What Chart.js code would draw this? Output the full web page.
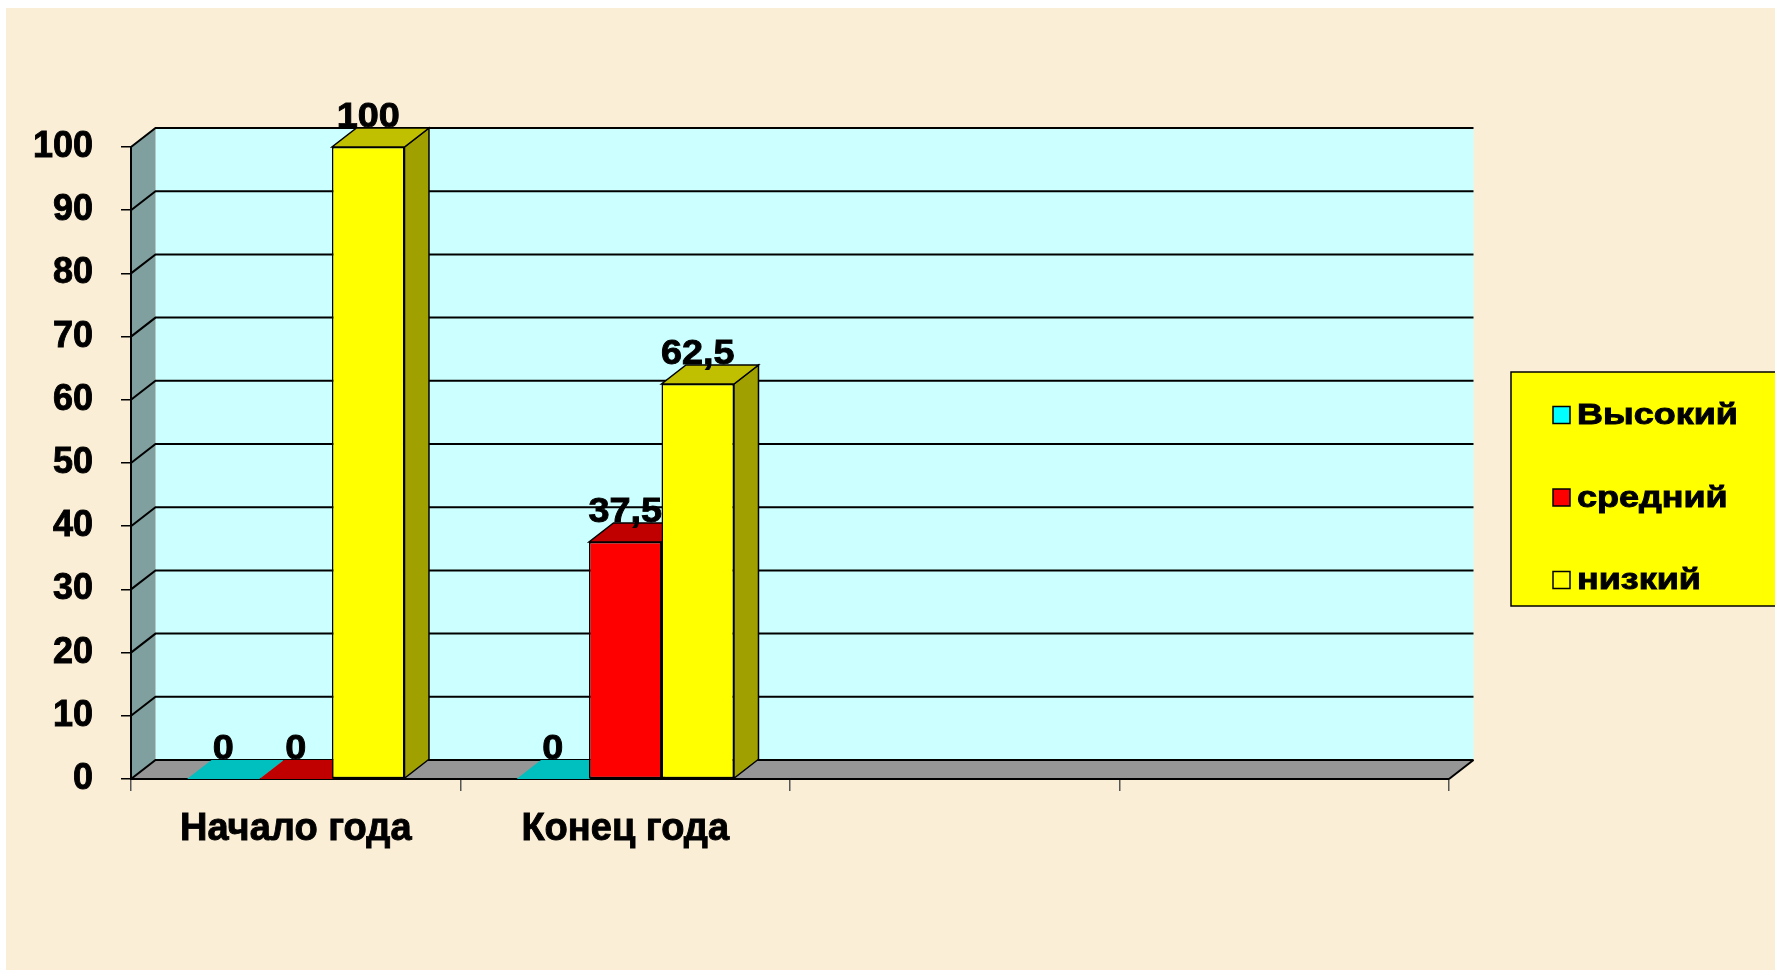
<!DOCTYPE html>
<html>
<head>
<meta charset="utf-8">
<script src="https://cdn.jsdelivr.net/npm/chart.js@4.4.0/dist/chart.umd.min.js"></script>
<style>
  html, body { margin: 0; padding: 0; background: #fff; }
  canvas { display: block; }
</style>
</head>
<body>
<canvas id="chart" width="1775" height="972"></canvas>
<script>
// data
const categories = ['Начало года', 'Конец года', '', ''];
const seriesNames = ['Высокий', 'средний', 'низкий'];
const highValues = [0, 0, null, null];
const midValues = [0, 37.5, null, null];
const lowValues = [100, 62.5, null, null];
const yTickValues = [0, 10, 20, 30, 40, 50, 60, 70, 80, 90, 100];

// colours of the front, top and side faces
const frontColors = ['#00FFFF', '#FF0000', '#FFFF00'];
const topColors = ['#00BFBF', '#C00000', '#C0C000'];
const sideColors = ['#00A0A0', '#A00000', '#A0A000'];

const FONT = "'Liberation Sans', Arial, sans-serif";
const DX = 24.5;   // depth offset to the right
const DY = 19;     // depth offset upwards

const poly = (ctx, pts) => {
    ctx.beginPath();
    ctx.moveTo(pts[0][0], pts[0][1]);
    for (let i = 1; i < pts.length; i++) ctx.lineTo(pts[i][0], pts[i][1]);
    ctx.closePath();
};

// heavy, slightly widened text like the original
const wideText = (ctx, text, x, y, stretch) => {
    ctx.save();
    ctx.translate(x, y);
    ctx.scale(stretch, 1);
    ctx.fillStyle = '#000';
    ctx.strokeStyle = '#000';
    ctx.lineWidth = 0.9;
    ctx.fillText(text, 0, 0);
    ctx.strokeText(text, 0, 0);
    ctx.restore();
};

const threeD = {
    id: 'threeD',
    beforeDraw(chart) {
        const { ctx, width, height, chartArea } = chart;
        const { left: L, right: R, top: T, bottom: B } = chartArea;
        const yScale = chart.scales.y;
        ctx.save();
        // page background
        ctx.fillStyle = '#ffffff';
        ctx.fillRect(0, 0, width, height);
        ctx.fillStyle = '#FAEED6';
        ctx.fillRect(6, 8, width - 6, height - 10);

        // back wall
        ctx.fillStyle = '#CCFFFF';
        ctx.fillRect(L + DX, T - DY, R - L, B - T);
        // left wall
        poly(ctx, [[L, B], [L, T], [L + DX, T - DY], [L + DX, B - DY]]);
        ctx.fillStyle = '#80A0A0';
        ctx.fill();
        // floor
        poly(ctx, [[L, B], [R, B], [R + DX, B - DY], [L + DX, B - DY]]);
        ctx.fillStyle = '#969696';
        ctx.fill();
        ctx.strokeStyle = '#000';
        ctx.lineWidth = 2;
        ctx.beginPath();
        ctx.moveTo(R, B);
        ctx.lineTo(R + DX, B - DY);
        ctx.stroke();

        // gridlines on the walls
        ctx.lineWidth = 2;
        ctx.strokeStyle = '#000';
        yScale.ticks.forEach(t => {
            const py = yScale.getPixelForValue(t.value);
            ctx.beginPath();
            ctx.moveTo(L, py);
            ctx.lineTo(L + DX, py - DY);
            ctx.lineTo(R + DX, py - DY);
            ctx.stroke();
        });
        ctx.restore();
    },
    beforeDatasetsDraw(chart) {
        const { ctx } = chart;
        ctx.save();
        ctx.lineWidth = 1.5;
        ctx.strokeStyle = '#000';
        categories.forEach((c, j) => {
            chart.data.datasets.forEach((ds, i) => {
                const v = ds.data[j];
                if (v === null || v === undefined) return;
                const el = chart.getDatasetMeta(i).data[j];
                const { x, y, base, width } = el.getProps(['x', 'y', 'base', 'width'], true);
                const x0 = x - width / 2, x1 = x + width / 2;
                if (v > 0) {
                    // side face
                    poly(ctx, [[x1, y], [x1 + DX, y - DY], [x1 + DX, base - DY], [x1, base]]);
                    ctx.fillStyle = sideColors[i];
                    ctx.fill();
                    ctx.stroke();
                }
                // top face
                poly(ctx, [[x0, y], [x1, y], [x1 + DX, y - DY], [x0 + DX, y - DY]]);
                ctx.fillStyle = topColors[i];
                ctx.fill();
                if (v > 0) ctx.stroke();

                // value label (drawn before the fronts, so a taller neighbour hides it)
                ctx.font = `bold 35px ${FONT}`;
                ctx.textAlign = 'center';
                ctx.textBaseline = 'alphabetic';
                wideText(ctx, String(v).replace('.', ','), x, y - DY - 1, 1.08);
            });
        });
        ctx.restore();
    },
    afterDraw(chart) {
        const { ctx } = chart;
        ctx.save();
        // legend box
        ctx.fillStyle = '#FFFF00';
        ctx.fillRect(1511, 372, 300, 234);
        ctx.strokeStyle = '#000';
        ctx.lineWidth = 1.5;
        ctx.strokeRect(1511, 372, 300, 234);
        ctx.font = `bold 29px ${FONT}`;
        ctx.textBaseline = 'middle';
        ctx.textAlign = 'left';
        chart.data.datasets.forEach((ds, i) => {
            const cy = 415 + i * 82.5;
            ctx.fillStyle = ds.backgroundColor;
            ctx.fillRect(1553, cy - 8.5, 17, 17);
            ctx.lineWidth = 1.5;
            ctx.strokeRect(1553, cy - 8.5, 17, 17);
            wideText(ctx, ds.label, 1577, cy + 1, 1.24);
        });
        ctx.restore();
    }
};

const seriesValues = [highValues, midValues, lowValues];

new Chart(document.getElementById('chart'), {
    type: 'bar',
    data: {
        labels: categories,
        datasets: seriesNames.map((name, i) => ({
            label: name,
            data: seriesValues[i],
            backgroundColor: frontColors[i],
            borderColor: '#000',
            borderWidth: 1.5,
            borderSkipped: false,
            categoryPercentage: 0.66,
            barPercentage: 1
        }))
    },
    options: {
        responsive: false,
        animation: false,
        devicePixelRatio: 1,
        layout: { padding: { left: 0, top: 147, right: 326, bottom: 0 } },
        plugins: {
            legend: { display: false },
            tooltip: { enabled: false }
        },
        scales: {
            x: {
                grid: { offset: true, drawOnChartArea: false, tickLength: 12, color: '#555', lineWidth: 1.5 },
                border: { color: '#000', width: 2 },
                ticks: {
                    color: '#000', padding: 16, textStrokeColor: '#000', textStrokeWidth: 0.9,
                    font: { family: FONT, size: 38, weight: 'bold' }
                },
                afterFit(s) { s.height = 972 - 779; }
            },
            y: {
                min: 0,
                max: 100,
                afterBuildTicks(s) { s.ticks = yTickValues.map(v => ({ value: v })); },
                grid: { drawOnChartArea: false, tickLength: 10, color: '#000', lineWidth: 1.5 },
                border: { color: '#000', width: 2 },
                ticks: {
                    color: '#000', padding: 28, textStrokeColor: '#000', textStrokeWidth: 0.9,
                    font: { family: FONT, size: 36, weight: 'bold' }
                },
                afterFit(s) { s.width = 131; }
            }
        }
    },
    plugins: [threeD]
});
</script>
</body>
</html>
